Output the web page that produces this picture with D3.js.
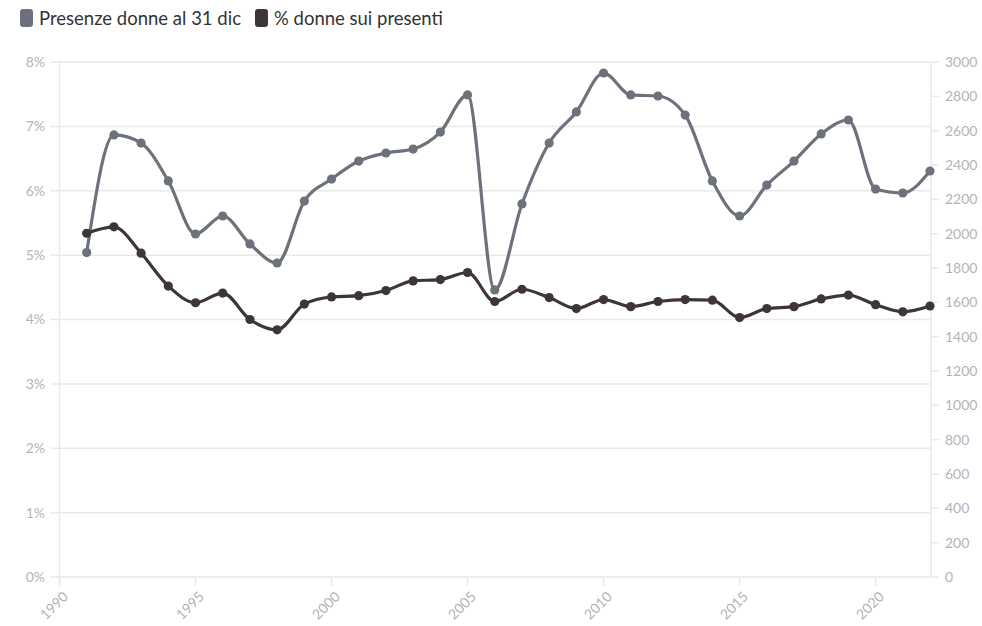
<!DOCTYPE html>
<html><head><meta charset="utf-8">
<script src="https://cdn.jsdelivr.net/npm/d3@7/dist/d3.min.js"></script>
<style>
body{margin:0;background:#fff;font-family:"Source Sans Pro",Lato,"Noto Sans",sans-serif;}
</style></head>
<body><svg id="c" width="982" height="626"></svg>
<script>
const years = [1991,1992,1993,1994,1995,1996,1997,1998,1999,2000,2001,2002,2003,2004,2005,2006,2007,2008,2009,2010,2011,2012,2013,2014,2015,2016,2017,2018,2019,2020,2021,2022];
const presenze = [1890,2575,2528,2307,1998,2103,1940,1829,2190,2318,2423,2470,2493,2592,2808,1672,2173,2528,2709,2936,2808,2802,2691,2307,2103,2283,2423,2581,2662,2260,2237,2365];
const percDonne = [5.34,5.44,5.03,4.52,4.26,4.41,4.00,3.84,4.24,4.35,4.37,4.45,4.60,4.62,4.73,4.28,4.47,4.34,4.17,4.31,4.20,4.28,4.31,4.30,4.03,4.17,4.20,4.32,4.38,4.23,4.12,4.21];
const leftTicks = [0,1,2,3,4,5,6,7,8];
const rightTicks = [0,200,400,600,800,1000,1200,1400,1600,1800,2000,2200,2400,2600,2800,3000];
const xTicks = [1990,1995,2000,2005,2010,2015,2020];
const seriesNames = ["Presenze donne al 31 dic","% donne sui presenti"];
const colors = ["#6c717c","#3d3539"];

const svg = d3.select("#c");
const L = 59.5, R = 930, T = 62, B = 577;
const x = d3.scaleLinear().domain([1990,2022]).range([L,R]);
const yL = d3.scaleLinear().domain([0,8]).range([B,T]);
const yR = d3.scaleLinear().domain([0,3000]).range([B,T]);
const grid = "#e9e9e9", lab = "#b4b4b4";

svg.append("g").selectAll("line").data(leftTicks).join("line")
  .attr("x1",L-9).attr("x2",R).attr("y1",d=>yL(d)).attr("y2",d=>yL(d))
  .attr("stroke",grid).attr("stroke-width",1.5);
svg.append("line").attr("x1",L).attr("x2",L).attr("y1",T).attr("y2",B+10).attr("stroke",grid).attr("stroke-width",1.5);
svg.append("g").selectAll("text").data(leftTicks).join("text")
  .attr("x",45).attr("y",d=>yL(d)).attr("dy","0.35em").attr("text-anchor","end")
  .attr("fill",lab).attr("font-size",14).text(d=>d+"%");
svg.append("line").attr("x1",R+1).attr("x2",R+1).attr("y1",T).attr("y2",B).attr("stroke",grid).attr("stroke-width",1.5);
svg.append("g").selectAll("line").data(rightTicks).join("line")
  .attr("x1",R+1).attr("x2",R+9).attr("y1",d=>yR(d)).attr("y2",d=>yR(d)).attr("stroke",grid).attr("stroke-width",1.5);
svg.append("g").selectAll("text").data(rightTicks).join("text")
  .attr("x",945).attr("y",d=>yR(d)).attr("dy","0.35em").attr("text-anchor","start")
  .attr("fill",lab).attr("font-size",14).text(d=>d);
svg.append("g").selectAll("line").data(xTicks).join("line")
  .attr("x1",d=>x(d)).attr("x2",d=>x(d)).attr("y1",B).attr("y2",B+9).attr("stroke",grid).attr("stroke-width",1.5);
svg.append("g").selectAll("text").data(xTicks).join("text")
  .attr("transform",d=>`translate(${x(d)+6},${B+17}) rotate(-45)`)
  .attr("text-anchor","end").attr("dy","0.35em")
  .attr("fill",lab).attr("font-size",14).text(d=>d);

const sets = [
  {vals:presenze, y:yR, c:colors[0]},
  {vals:percDonne, y:yL, c:colors[1]}
];
sets.forEach(s=>{
  const pts = years.map((yr,i)=>[x(yr), s.y(s.vals[i])]);
  svg.append("path").attr("d", d3.line().curve(d3.curveMonotoneX)(pts))
    .attr("fill","none").attr("stroke",s.c).attr("stroke-width",3.2);
  svg.append("g").selectAll("circle").data(pts).join("circle")
    .attr("cx",d=>d[0]).attr("cy",d=>d[1]).attr("r",4.6).attr("fill",s.c);
});

const lg = svg.append("g");
let lx = 20;
seriesNames.forEach((n,i)=>{
  lg.append("rect").attr("x",lx).attr("y",9).attr("width",13).attr("height",18).attr("rx",3).attr("fill",colors[i]);
  const t = lg.append("text").attr("x",lx+19).attr("y",24.5).attr("font-size",18.5).attr("fill","#333").text(n);
  lx += 19 + t.node().getComputedTextLength() + 14;
});
</script></body></html>
